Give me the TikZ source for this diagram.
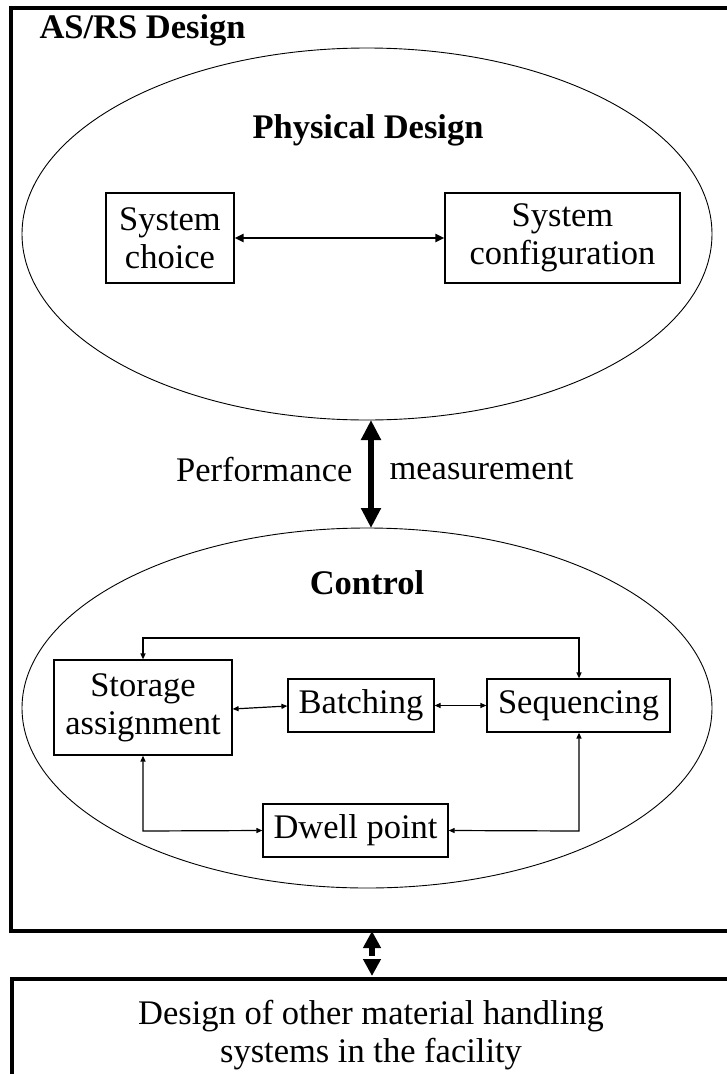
\documentclass[tikz,border=0pt]{standalone}
\usepackage{fontspec}
\setmainfont{Liberation Serif}
\usetikzlibrary{arrows.meta,shapes.geometric}
\begin{document}
\begin{tikzpicture}[x=1pt,y=-1pt,
  every node/.style={font=\fontsize{34.5}{38}\selectfont, align=center},
  titletext/.style={font=\fontsize{34.5}{38}\selectfont\bfseries},
  box/.style={draw, line width=1.2pt, inner sep=0pt},
  oval/.style={draw, ellipse, line width=0.9pt, inner sep=0pt},
  bigbox/.style={draw, line width=3.5pt, inner sep=0pt, anchor=north west},
  small/.style={line width=1.2pt, {Triangle[length=6pt,width=5pt]}-{Triangle[length=6pt,width=5pt]}},
  mid/.style={line width=2.2pt, {Triangle[length=9pt,width=8pt]}-{Triangle[length=9pt,width=8pt]}},
  heavy/.style={line width=6pt, {Triangle[length=20pt,width=19pt]}-{Triangle[length=20pt,width=19pt]}},
  heavydash/.style={line width=6pt, dash pattern=on 9pt off 6pt, {Triangle[length=17pt,width=17pt]}-{Triangle[length=17pt,width=17pt]}}
]
\useasboundingbox (0,0) rectangle (727,1074);
\clip (0,0) rectangle (727,1074);
\fill[white] (0,0) rectangle (727,1074);

% outer boxes
\node[bigbox, minimum width=760pt, minimum height=923pt] (outer) at (9,6) {};
\node[titletext, anchor=base west] (title) at (36,38) {AS/RS Design};
\node[bigbox, minimum width=760pt, minimum height=140pt] (other) at (10,977) {};
\node (othertext) at (371,1035) {Design of other material handling\\systems in the facility};

% ellipses
\node[oval, minimum width=690pt, minimum height=372pt] (phys) at (367,234) {};
\node[oval, minimum width=690pt, minimum height=360pt] (ctrl) at (367,708) {};
\node[titletext] (physlabel) at (368,130) {Physical Design};
\node[titletext] (ctrllabel) at (367,583) {Control};

% physical design boxes
\node[box, minimum width=128pt, minimum height=90pt] (choice) at (170,238) {System\\choice};
\node[box, minimum width=235pt, minimum height=90pt] (config) at (562.5,238) {System\\configuration};
\draw[mid] (choice.east) -- (config.west);

% performance
\coordinate (pa) at (371,420);
\coordinate (pb) at (371,528);
\draw[heavy] (pa) -- (pb);
\node[anchor=east] (perf) at (356,470) {Performance};
\node[anchor=west] (meas) at (386,470) {measurement};

% control boxes
\node[box, minimum width=178pt, minimum height=95pt] (stor) at (143,707.5) {Storage\\assignment};
\node[box, minimum width=146pt, minimum height=53pt] (batch) at (361,705.5) {Batching};
\node[box, minimum width=183pt, minimum height=53pt] (seq) at (578.5,705.5) {Sequencing};
\node[box, minimum width=185pt, minimum height=53pt] (dwell) at (355.5,830.5) {Dwell point};

\coordinate (tl) at (143,638);
\coordinate (tr) at (579,638);
\coordinate (bl) at (143,831);
\coordinate (br) at (579,831);

\draw[small] (stor.north) -- (tl) -- (tr) -- (seq.north -| tr);
\draw[small] (stor.east |- 0,709) -- (batch.west |- 0,706);
\draw[small] (batch.east) -- (seq.west);
\draw[small] (stor.south) -- (bl) -- (dwell.west);
\draw[small] (seq.south -| br) -- (br) -- (dwell.east);

% dashed link
\coordinate (da) at (372,931);
\coordinate (db) at (372,976);
\draw[heavydash] (da) -- (db);
\end{tikzpicture}
\end{document}
